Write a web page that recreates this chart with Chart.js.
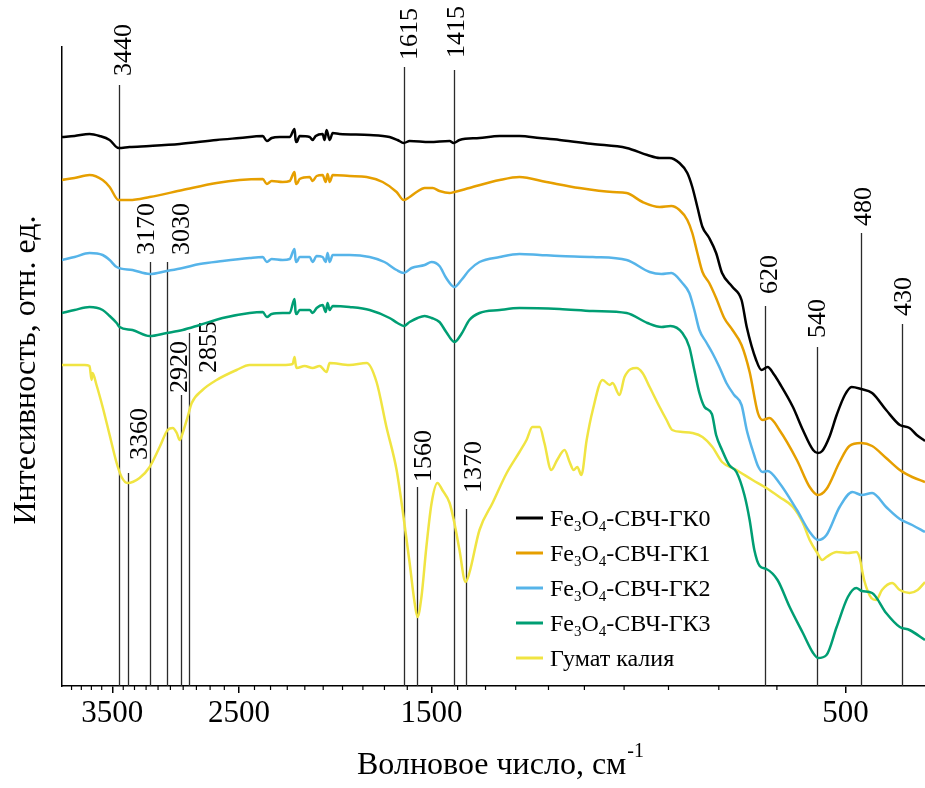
<!DOCTYPE html>
<html lang="ru">
<head>
<meta charset="UTF-8">
<title>ИК-спектры</title>
<script src="https://cdn.jsdelivr.net/npm/chart.js"></script>
<style>
  html, body { margin: 0; padding: 0; background: #fff; }
</style>
</head>
<body>
<canvas id="irChart" width="925" height="788"></canvas>
<script>
// спектры: пары [волновое число, см-1 ; интенсивность, отн. ед.]
const gk0 = [[4000,549],[3869,550],[3718,552],[3620,550],[3525,546],[3442,538],[3344,539],[3170,540],[2927,542],[2654,546],[2497,548],[2348,550],[2323,545],[2293,548],[2245,549],[2186,549],[2158,557],[2152,546],[2146,544],[2129,550],[2073,549],[2057,546],[2040,550],[2003,552],[1993,546],[1982,556],[1966,546],[1950,553],[1915,552],[1768,551],[1677,549],[1642,546],[1615,543],[1590,545],[1508,544],[1430,545],[1415,543],[1393,546],[1321,548],[1252,550],[1188,550],[1126,548],[1068,546],[978,542],[894,538],[846,531],[819,528],[798,528],[777,523],[761,513],[751,499],[741,479],[731,459],[718,448],[705,433],[694,413],[675,399],[659,386],[650,359],[634,326],[625,316],[615,319],[604,311],[596,303],[575,279],[560,256],[545,236],[538,233],[532,235],[522,249],[512,271],[501,291],[492,299],[480,297],[466,293],[449,276],[433,261],[422,258],[414,251],[405,245]];

const gk1 = [[4000,506],[3869,508],[3718,511],[3591,506],[3525,499],[3442,486],[3344,486],[3170,489],[2904,496],[2654,503],[2497,506],[2348,507],[2323,502],[2293,505],[2227,504],[2186,505],[2158,514],[2152,504],[2146,502],[2129,507],[2073,509],[2057,505],[2035,510],[2003,511],[1987,504],[1977,512],[1966,504],[1950,511],[1865,510],[1782,509],[1708,504],[1646,494],[1615,486],[1590,489],[1561,494],[1528,498],[1496,498],[1469,495],[1430,493],[1412,494],[1357,498],[1252,506],[1188,509],[1106,504],[1013,498],[928,494],[894,493],[857,484],[819,479],[794,480],[777,476],[761,466],[751,453],[741,433],[731,414],[718,403],[705,388],[690,368],[675,356],[659,341],[645,314],[631,273],[623,266],[612,268],[596,256],[569,226],[550,199],[538,191],[526,197],[508,224],[495,240],[480,243],[466,240],[449,228],[433,216],[419,209],[405,204]];

const gk2 = [[4000,426],[3869,429],[3718,433],[3591,431],[3525,426],[3460,419],[3318,416],[3170,412],[3030,415],[2904,418],[2776,422],[2612,425],[2431,428],[2348,429],[2323,424],[2293,427],[2227,426],[2186,427],[2158,437],[2152,426],[2146,424],[2129,429],[2073,429],[2057,424],[2035,430],[2003,429],[1987,424],[1977,433],[1966,424],[1950,431],[1865,431],[1768,429],[1700,424],[1646,416],[1615,413],[1582,418],[1528,421],[1500,424],[1469,420],[1443,408],[1412,399],[1386,406],[1357,416],[1321,424],[1252,429],[1188,432],[1126,431],[1068,430],[978,429],[894,426],[841,414],[815,412],[794,413],[771,403],[757,393],[747,376],[737,356],[724,344],[712,333],[699,319],[686,303],[672,291],[659,281],[650,256],[640,236],[631,220],[623,214],[615,215],[596,203],[569,176],[550,154],[538,146],[526,151],[508,179],[491,194],[479,191],[466,193],[449,179],[433,167],[419,161],[405,154]];

const gk3 = [[4000,373],[3869,376],[3718,379],[3591,376],[3525,370],[3460,363],[3433,359],[3318,356],[3170,350],[3030,353],[2904,356],[2776,361],[2612,368],[2431,373],[2348,374],[2323,369],[2293,372],[2227,373],[2186,373],[2158,387],[2152,374],[2146,372],[2129,376],[2073,376],[2057,373],[2035,378],[2003,381],[1987,374],[1977,383],[1966,376],[1950,380],[1865,379],[1768,376],[1677,368],[1642,363],[1615,360],[1590,364],[1557,368],[1528,370],[1500,368],[1469,364],[1443,354],[1412,344],[1386,352],[1357,366],[1321,373],[1252,376],[1188,378],[1068,377],[978,375],[894,373],[846,363],[815,359],[796,360],[771,353],[757,339],[747,316],[737,293],[727,279],[713,272],[705,251],[694,236],[681,221],[668,214],[654,191],[645,166],[637,136],[628,120],[617,117],[599,106],[580,79],[560,53],[545,33],[538,28],[526,31],[512,59],[497,89],[486,98],[479,95],[466,93],[449,73],[433,59],[422,56],[405,46]];

const humate = [[4000,321],[3767,321],[3718,320],[3698,306],[3689,313],[3650,301],[3591,279],[3525,251],[3460,223],[3415,209],[3362,203],[3256,208],[3170,219],[3087,239],[3022,256],[2982,258],[2950,253],[2927,246],[2904,253],[2866,269],[2835,283],[2755,296],[2654,306],[2517,316],[2431,321],[2227,321],[2169,322],[2158,329],[2152,322],[2146,318],[2101,320],[2057,318],[2019,320],[1982,314],[1966,323],[1865,321],[1782,323],[1736,304],[1691,259],[1646,216],[1620,176],[1590,123],[1569,83],[1557,69],[1541,89],[1521,139],[1500,183],[1477,203],[1458,196],[1430,183],[1412,163],[1393,136],[1371,104],[1357,113],[1321,156],[1276,183],[1229,213],[1188,234],[1166,246],[1148,259],[1126,259],[1112,243],[1092,216],[1075,226],[1054,236],[1040,224],[1029,216],[1019,219],[1008,211],[994,246],[978,276],[953,306],[935,301],[928,303],[911,291],[899,309],[871,318],[857,313],[841,299],[819,279],[804,266],[792,256],[771,254],[751,253],[731,249],[712,239],[694,224],[668,216],[640,206],[617,198],[596,189],[575,179],[560,163],[550,146],[539,133],[532,126],[526,129],[512,134],[497,133],[486,134],[482,129],[476,106],[467,88],[461,86],[454,96],[442,103],[433,96],[422,93],[413,96],[405,104]];

const seriesNames = ['Fe3O4-СВЧ-ГК0', 'Fe3O4-СВЧ-ГК1', 'Fe3O4-СВЧ-ГК2', 'Fe3O4-СВЧ-ГК3', 'Гумат калия'];
const seriesColors = ['#000000', '#E69F00', '#56B4E9', '#009E73', '#F0E442'];

// отмеченные полосы поглощения, см-1
const bandWn = [3440, 3360, 3170, 3030, 2920, 2855, 1615, 1560, 1415, 1370, 620, 540, 480, 430];
const xTicks = [3500, 2500, 1500, 500];

// оформление меток полос (верх линии в единицах оси Y, сдвиги подписей в px)
const bandTop = [601, 213, 424, 424, 291, 353, 619, 199, 616, 177, 380, 339, 453, 362];
const bandLabelDx = [3, 10, -5, 13, -3, 18, 4, 5, 1, 6, 3, -1, 1, 0];
const bandLabelGap = [9, 13, 7, 7, 2, -40, 7, 5, 12, 16, 12, 9, 7, 8];

const serif = '"Liberation Serif", "Times New Roman", serif';

function drawFormula(ctx, name, x, y, size) {
  const m = name.match(/^Fe(\d)O(\d)(.*)$/);
  const parts = m ? [['Fe', 0], [m[1], 1], ['O', 0], [m[2], 1], [m[3], 0]] : [[name, 0]];
  parts.forEach(([t, sub]) => {
    ctx.font = (sub ? Math.round(size * 0.64) : size) + 'px ' + serif;
    ctx.fillText(t, x, y + (sub ? size * 0.22 : 0));
    x += ctx.measureText(t).width;
  });
}

const irDecor = {
  id: 'irDecor',
  beforeDatasetsDraw(chart) {
    const { ctx, chartArea, scales: { x, y } } = chart;
    ctx.save();
    // мелкие деления через 100 см-1
    ctx.strokeStyle = '#000';
    ctx.lineWidth = 1.2;
    for (let v = 500; v < 4000; v += 100) {
      if (xTicks.includes(v)) continue;
      const px = x.getPixelForValue(v);
      ctx.beginPath();
      ctx.moveTo(px, chartArea.bottom);
      ctx.lineTo(px, chartArea.bottom + 4);
      ctx.stroke();
    }
    // линии полос и подписи
    bandWn.forEach((wn, i) => {
      const px = Math.round(x.getPixelForValue(wn)) + 0.5;
      const top = y.getPixelForValue(bandTop[i]);
      ctx.strokeStyle = '#2b2b2b';
      ctx.lineWidth = 1.3;
      ctx.beginPath();
      ctx.moveTo(px, top);
      ctx.lineTo(px, chartArea.bottom);
      ctx.stroke();

      ctx.save();
      ctx.translate(px + bandLabelDx[i] + 0.34 * 26, top - bandLabelGap[i]);
      ctx.rotate(-Math.PI / 2);
      ctx.font = '26px ' + serif;
      ctx.fillStyle = '#000';
      ctx.textAlign = 'left';
      ctx.textBaseline = 'alphabetic';
      ctx.fillText(String(wn), 0, 0);
      ctx.restore();
    });
    ctx.restore();
  },
  afterDraw(chart) {
    const { ctx } = chart;
    ctx.save();
    ctx.fillStyle = '#000';
    ctx.textBaseline = 'alphabetic';

    // легенда
    chart.data.datasets.forEach((ds, i) => {
      const ly = 518 + i * 35;
      ctx.strokeStyle = ds.borderColor;
      ctx.lineWidth = 3;
      ctx.beginPath();
      ctx.moveTo(516, ly);
      ctx.lineTo(543, ly);
      ctx.stroke();
      ctx.textAlign = 'left';
      drawFormula(ctx, ds.label, 550, ly + 8, 24);
    });

    // подпись оси X
    ctx.font = '32px ' + serif;
    const main = 'Волновое число, см';
    const wMain = ctx.measureText(main).width;
    ctx.font = '20px ' + serif;
    const wSup = ctx.measureText('-1').width;
    const sx = 500 - (wMain + wSup) / 2;
    ctx.font = '32px ' + serif;
    ctx.textAlign = 'left';
    ctx.fillText(main, sx, 774);
    ctx.font = '20px ' + serif;
    ctx.fillText('-1', sx + wMain + 1, 757);

    // подпись оси Y
    ctx.save();
    ctx.translate(35, 370);
    ctx.rotate(-Math.PI / 2);
    ctx.font = '32px ' + serif;
    ctx.textAlign = 'center';
    ctx.fillText('Интесивность, отн. ед.', 0, 0);
    ctx.restore();

    ctx.restore();
  }
};

const allSeries = [gk0, gk1, gk2, gk3, humate];

new Chart(document.getElementById('irChart'), {
  type: 'line',
  data: {
    datasets: allSeries.map((s, i) => ({
      label: seriesNames[i],
      data: s.map(([wn, v]) => ({ x: wn, y: v })),
      borderColor: seriesColors[i],
      backgroundColor: seriesColors[i],
      borderWidth: 2.5,
      pointRadius: 0,
      fill: false,
      cubicInterpolationMode: 'monotone'
    }))
  },
  options: {
    responsive: false,
    animation: false,
    devicePixelRatio: 1,
    layout: { padding: { top: 47, right: 0, left: 0, bottom: 0 } },
    plugins: {
      legend: { display: false },
      tooltip: { enabled: false }
    },
    scales: {
      x: {
        type: 'logarithmic',
        reverse: true,
        min: 405,
        max: 4000,
        afterBuildTicks: sc => { sc.ticks = xTicks.map(v => ({ value: v })); },
        afterFit: sc => { sc.height = 102; },
        ticks: {
          callback: v => String(v),
          font: { family: serif, size: 31 },
          color: '#000',
          padding: 2,
          maxRotation: 0,
          autoSkip: false
        },
        grid: { drawOnChartArea: false, drawTicks: true, tickLength: 7, color: '#000', lineWidth: 1.5 },
        border: { display: true, color: '#000', width: 1.5 }
      },
      y: {
        min: 0,
        max: 639,
        ticks: { display: false },
        grid: { display: false },
        border: { display: true, color: '#000', width: 1.5 },
        afterFit: sc => { sc.width = 62; }
      }
    }
  },
  plugins: [irDecor]
});
</script>
</body>
</html>
